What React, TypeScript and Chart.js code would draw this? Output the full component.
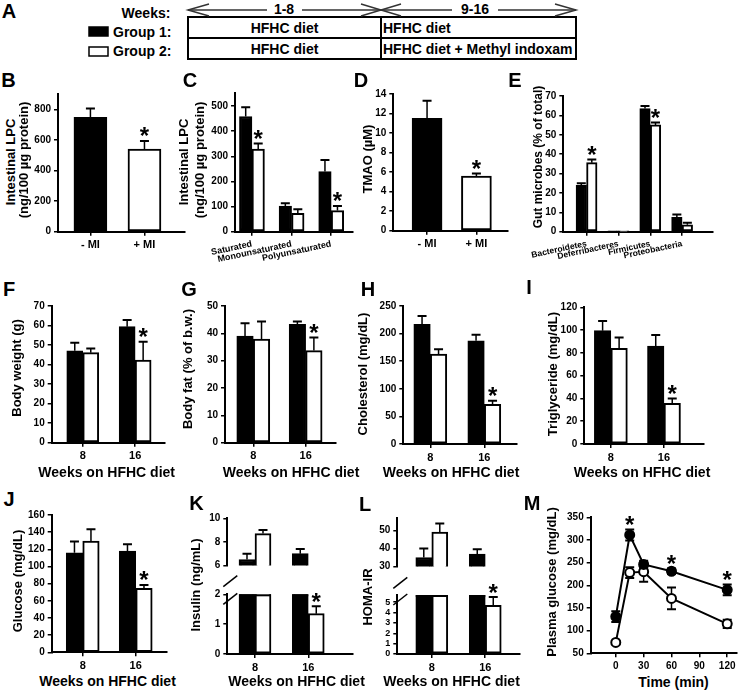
import React, { useEffect, useRef } from 'react';
import { Chart, registerables } from 'chart.js';

Chart.register(...registerables);

const FONT = "'Liberation Sans', Arial, Helvetica, sans-serif";
Chart.defaults.font.family = FONT;
Chart.defaults.color = '#000';

// ---------------- data ----------------
const miLabels = ['- MI', '+ MI'];
const lpcTotal = [748, 540];
const lpcTotalErr = [58, 53];
const lpcTotalTicks = [0, 200, 400, 600, 800];

const lpcClasses = ['Saturated', 'Monounsaturated', 'Polyunsaturated'];
const lpcClassG1 = [458, 102, 239];
const lpcClassG1Err = [37, 11, 46];
const lpcClassG2 = [329, 73, 84];
const lpcClassG2Err = [22, 16, 18];
const lpcClassTicks = [0, 100, 200, 300, 400, 500];

const tmao = [11.5, 5.6];
const tmaoErr = [1.8, 0.25];
const tmaoTicks = [0, 2, 4, 6, 8, 10, 12, 14];

const phyla = ['Bacteroidetes', 'Deferribacteres', 'Firmicutes', 'Proteobacteria'];
const microbesG1 = [23.9, 0.3, 63.5, 7.4];
const microbesG1Err = [1.1, 0, 1.4, 1.5];
const microbesG2 = [35.6, 0.2, 55.1, 3.6];
const microbesG2Err = [1.7, 0, 1.2, 1.0];
const microbesTicks = [0, 10, 20, 30, 40, 50, 60, 70];

const weeks = ['8', '16'];
const bodyWeightG1 = [47.1, 59.4];
const bodyWeightG1Err = [4.1, 3.4];
const bodyWeightG2 = [46.1, 42.3];
const bodyWeightG2Err = [2.2, 9.4];
const bodyWeightTicks = [0, 10, 20, 30, 40, 50, 60, 70];

const bodyFatG1 = [39.0, 43.3];
const bodyFatG1Err = [4.7, 1.0];
const bodyFatG2 = [37.9, 33.7];
const bodyFatG2Err = [6.4, 4.8];
const bodyFatTicks = [0, 10, 20, 30, 40, 50];

const cholG1 = [217, 187];
const cholG1Err = [15, 11];
const cholG2 = [163, 72];
const cholG2Err = [8.5, 6.5];
const cholTicks = [0, 50, 100, 150, 200, 250];

const tgG1 = [99.5, 86];
const tgG1Err = [8.5, 9.7];
const tgG2 = [84, 35.7];
const tgG2Err = [9.4, 4.3];
const tgTicks = [0, 20, 40, 60, 80, 100, 120];

const glucoseG1 = [116, 118];
const glucoseG1Err = [13, 8];
const glucoseG2 = [129.7, 74.6];
const glucoseG2Err = [13.6, 3.8];
const glucoseTicks = [0, 20, 40, 60, 80, 100, 120, 140, 160];

const insulinG1 = [6.5, 7.0];
const insulinG1Err = [0.5, 0.4];
const insulinG2 = [8.7, 1.35];
const insulinG2Err = [0.3, 0.25];
const insulinLowTicks = [0, 1, 2];
const insulinHighTicks = [6, 8, 10];

const homaG1 = [35, 36.9];
const homaG1Err = [5, 2.6];
const homaG2 = [49, 4.7];
const homaG2Err = [4.7, 0.8];
const homaLowTicks = [0, 1, 2, 3, 4, 5];
const homaHighTicks = [30, 40, 50];

const gttTime = [0, 15, 30, 60, 120];
const gttG1 = [131, 311, 246, 231, 190];
const gttG1Err = [12, 12, 8, 6, 12];
const gttG2 = [74, 228, 230, 171, 115];
const gttG2Err = [3, 12, 22, 24, 9];
const gttYTicks = [50, 100, 150, 200, 250, 300, 350];
const gttXTicks = [0, 30, 60, 90, 120];

// significance marks (index of the Group 2 / treated point)
const sigSecond = [1];
const sigLpcClass = [0, 2];
const sigMicrobes = [0, 2];
const sigGtt = [1, 3, 4];

// ---------------- helpers ----------------
const val = (d: any) => (typeof d === 'number' ? d : d.y);
const idx = (n: number) => Array.from({ length: n }, (_, i) => i + 1);
const xy = (vals: number[]) => vals.map((v, i) => ({ x: i + 1, y: v }));

const errorBarPlugin = {
  id: 'errorBars',
  beforeDatasetsDraw(chart: any) {
    const ctx = chart.ctx;
    chart.data.datasets.forEach((ds: any, di: number) => {
      if (!ds.errors) return;
      const meta = chart.getDatasetMeta(di);
      const ys = chart.scales[meta.yAxisID];
      const xs = chart.scales[meta.xAxisID];
      ctx.save();
      ctx.beginPath();
      ctx.rect(xs.left - 20, ys.top, xs.right - xs.left + 40, ys.bottom - ys.top);
      ctx.clip();
      ctx.strokeStyle = '#000';
      meta.data.forEach((el: any, i: number) => {
        const e = ds.errors[i];
        if (!e) return;
        const v = val(ds.data[i]);
        const x = el.x;
        const top = ys.getPixelForValue(v + e);
        const bottom = ds.errorsBothWays ? ys.getPixelForValue(v - e) : el.y;
        ctx.lineWidth = 1.5;
        ctx.beginPath();
        ctx.moveTo(x, bottom);
        ctx.lineTo(x, top);
        ctx.stroke();
        ctx.lineWidth = 2;
        ctx.beginPath();
        ctx.moveTo(x - 4.5, top);
        ctx.lineTo(x + 4.5, top);
        if (ds.errorsBothWays) {
          ctx.moveTo(x - 4.5, bottom);
          ctx.lineTo(x + 4.5, bottom);
        }
        ctx.stroke();
      });
      ctx.restore();
    });
  },
};

const starPlugin = {
  id: 'stars',
  afterDatasetsDraw(chart: any) {
    const ctx = chart.ctx;
    chart.data.datasets.forEach((ds: any, di: number) => {
      if (!ds.stars) return;
      const meta = chart.getDatasetMeta(di);
      const ys = chart.scales[meta.yAxisID];
      ctx.save();
      ctx.font = `bold 24px ${FONT}`;
      ctx.fillStyle = '#000';
      ctx.textAlign = 'center';
      ctx.textBaseline = 'alphabetic';
      ds.stars.forEach((i: number) => {
        const el = meta.data[i];
        const v = val(ds.data[i]);
        const top = ys.getPixelForValue(v + (ds.errors ? ds.errors[i] : 0));
        ctx.fillText('*', el.x, top - 10 + 0.56 * 24);
      });
      ctx.restore();
    });
  },
};

const breakPlugin = {
  id: 'brk',
  afterDatasetsDraw(chart: any, _a: any, opts: any) {
    if (!opts || !opts.active) return;
    const ctx = chart.ctx;
    const y = chart.scales.y;
    ctx.save();
    ctx.fillStyle = '#000';
    chart.data.datasets.forEach((ds: any, di: number) => {
      const meta = chart.getDatasetMeta(di);
      meta.data.forEach((el: any, i: number) => {
        if (val(ds.data[i]) > y.max) ctx.fillRect(el.x - el.width / 2, y.top, el.width, 2);
      });
    });
    const L = y.right;
    const lowTop = y.top;
    const upBottom = lowTop - opts.gap;
    ctx.strokeStyle = '#000';
    ctx.lineWidth = 1.5;
    [upBottom, lowTop].forEach((yy) => {
      ctx.beginPath();
      ctx.moveTo(L - 4, yy + 10);
      ctx.lineTo(L + 10, yy - 1);
      ctx.stroke();
    });
    ctx.restore();
  },
};

type Spec = {
  canvas: [number, number, number, number];
  plot: [number, number, number, number];
  type?: 'bar' | 'line';
  xMin: number;
  xMax: number;
  xTicks: number[];
  xLabels?: string[];
  xFont?: number;
  rot?: number;
  hideX?: boolean;
  yMin: number;
  yMax: number;
  yTicks: number[];
  yFont?: number;
  datasets: any[];
  brk?: { active: boolean; gap: number };
};

function buildConfig(s: Spec) {
  const [cx, cy, cw, ch] = s.canvas;
  const [l, t, r, b] = s.plot;
  const hideX = !!s.hideX;
  const rot = s.rot || 0;
  return {
    type: s.type || 'bar',
    data: { datasets: s.datasets },
    options: {
      responsive: false,
      maintainAspectRatio: false,
      animation: false,
      events: [],
      layout: {
        padding: { left: 0, top: t - cy, right: cx + cw - r, bottom: hideX ? cy + ch - b : 0 },
      },
      plugins: {
        legend: { display: false },
        tooltip: { enabled: false },
        brk: s.brk || { active: false, gap: 0 },
      },
      scales: {
        x: {
          type: 'linear',
          display: !hideX,
          offset: false,
          min: s.xMin,
          max: s.xMax,
          afterFit: (sc: any) => {
            sc.height = cy + ch - b;
          },
          afterBuildTicks: (sc: any) => {
            sc.ticks = s.xTicks.map((v) => ({ value: v }));
          },
          grid: { display: true, offset: false, drawOnChartArea: false, drawTicks: true, tickLength: 4, color: '#000', lineWidth: 1.5 },
          border: { display: true, color: '#000', width: 2 },
          ticks: {
            font: { size: s.xFont || 11, weight: 'bold', family: FONT },
            color: '#000',
            padding: 3,
            autoSkip: false,
            minRotation: rot,
            maxRotation: rot,
            callback: (v: number) => (s.xLabels ? s.xLabels[Math.round(v) - 1] : String(v)),
          },
        },
        y: {
          type: 'linear',
          min: s.yMin,
          max: s.yMax,
          afterFit: (sc: any) => {
            sc.width = l - cx;
          },
          afterBuildTicks: (sc: any) => {
            sc.ticks = s.yTicks.map((v) => ({ value: v }));
          },
          grid: { display: true, drawOnChartArea: false, drawTicks: true, tickLength: 4, color: '#000', lineWidth: 1.5 },
          border: { display: true, color: '#000', width: 2 },
          ticks: {
            font: { size: s.yFont || 10, weight: 'bold', family: FONT },
            color: '#000',
            padding: 3,
            autoSkip: false,
          },
        },
      },
    },
    plugins: [errorBarPlugin, starPlugin, breakPlugin],
  };
}

function barDs(values: number[], errors: number[], fill: string | string[], thickness: number, stars?: number[]) {
  return {
    data: xy(values),
    backgroundColor: fill,
    borderColor: '#000',
    borderWidth: 2,
    borderSkipped: false,
    barThickness: thickness,
    clip: 0,
    errors,
    stars,
  };
}

function pair(g1: number[], e1: number[], g2: number[], e2: number[], th: number, stars?: number[]) {
  return [barDs(g1, e1, '#000', th), barDs(g2, e2, '#fff', th, stars)];
}

function lineDs(times: number[], values: number[], errors: number[], fill: string, stars?: number[]) {
  return {
    data: times.map((t, i) => ({ x: t, y: values[i] })),
    borderColor: '#000',
    borderWidth: 2,
    backgroundColor: fill,
    pointBackgroundColor: fill,
    pointBorderColor: '#000',
    pointBorderWidth: 2,
    pointRadius: 4.5,
    tension: 0,
    showLine: true,
    errors,
    errorsBothWays: true,
    stars,
  };
}

// ---------------- panels ----------------
const specs: Spec[] = [
  // B
  {
    canvas: [26, 84, 164, 176], plot: [58, 94, 185, 231.7],
    xMin: 0.4, xMax: 2.75, xTicks: idx(2), xLabels: miLabels,
    yMin: 0, yMax: 900, yTicks: lpcTotalTicks,
    datasets: [barDs(lpcTotal, lpcTotalErr, ['#000', '#fff'], 33, sigSecond)],
  },
  // C
  {
    canvas: [204, 84, 154, 182], plot: [234.3, 93.4, 353, 231.7],
    xMin: 0.573, xMax: 3.55, xTicks: idx(3), xLabels: lpcClasses, xFont: 9, rot: 12,
    yMin: 0, yMax: 550, yTicks: lpcClassTicks,
    datasets: pair(lpcClassG1, lpcClassG1Err, lpcClassG2, lpcClassG2Err, 12.5, sigLpcClass),
  },
  // D
  {
    canvas: [365, 84, 148, 176], plot: [393.3, 94, 508, 230.7],
    xMin: 0.316, xMax: 2.64, xTicks: idx(2), xLabels: miLabels,
    yMin: 0, yMax: 14, yTicks: tmaoTicks,
    datasets: [barDs(tmao, tmaoErr, ['#000', '#fff'], 30, sigSecond)],
  },
  // E
  {
    canvas: [522, 84, 196, 182], plot: [563.3, 96, 713, 231.7],
    xMin: 0.27, xMax: 4.97, xTicks: idx(4), xLabels: phyla, xFont: 8.5, rot: 12,
    yMin: 0, yMax: 70, yTicks: microbesTicks,
    datasets: pair(microbesG1, microbesG1Err, microbesG2, microbesG2Err, 10.5, sigMicrobes),
  },
  // F
  {
    canvas: [20, 296, 150, 166], plot: [51.7, 306, 165, 442.7],
    xMin: 0.407, xMax: 2.57, xTicks: idx(2), xLabels: weeks,
    yMin: 0, yMax: 70, yTicks: bodyWeightTicks,
    datasets: pair(bodyWeightG1, bodyWeightG1Err, bodyWeightG2, bodyWeightG2Err, 16, sigSecond),
  },
  // G
  {
    canvas: [196, 296, 145, 166], plot: [225, 306, 336, 442.7],
    xMin: 0.46, xMax: 2.58, xTicks: idx(2), xLabels: weeks,
    yMin: 0, yMax: 50, yTicks: bodyFatTicks,
    datasets: pair(bodyFatG1, bodyFatG1Err, bodyFatG2, bodyFatG2Err, 16.5, sigSecond),
  },
  // H
  {
    canvas: [372, 296, 150, 166], plot: [403.3, 306, 516.7, 444],
    xMin: 0.5, xMax: 2.6, xTicks: idx(2), xLabels: weeks,
    yMin: 0, yMax: 250, yTicks: cholTicks,
    datasets: pair(cholG1, cholG1Err, cholG2, cholG2Err, 16.5, sigSecond),
  },
  // I
  {
    canvas: [553, 296, 155, 166], plot: [584.3, 307.3, 703.3, 444],
    xMin: 0.5, xMax: 2.74, xTicks: idx(2), xLabels: weeks,
    yMin: 0, yMax: 120, yTicks: tgTicks,
    datasets: pair(tgG1, tgG1Err, tgG2, tgG2Err, 16.5, sigSecond),
  },
  // J
  {
    canvas: [18, 505, 154, 168], plot: [51.7, 515, 167, 652.3],
    xMin: 0.415, xMax: 2.59, xTicks: idx(2), xLabels: weeks,
    yMin: 0, yMax: 160, yTicks: glucoseTicks,
    datasets: pair(glucoseG1, glucoseG1Err, glucoseG2, glucoseG2Err, 16.5, sigSecond),
  },
  // K upper
  {
    canvas: [198, 508, 160, 80], plot: [227.3, 518.3, 353, 576.7], hideX: true,
    xMin: 0.48, xMax: 2.84, xTicks: idx(2), xLabels: weeks,
    yMin: 6, yMax: 10, yTicks: insulinHighTicks,
    datasets: pair(insulinG1, insulinG1Err, insulinG2, insulinG2Err, 16),
  },
  // K lower
  {
    canvas: [198, 568, 160, 105], plot: [227.3, 594.3, 353, 654],
    xMin: 0.48, xMax: 2.84, xTicks: idx(2), xLabels: weeks,
    yMin: 0, yMax: 2, yTicks: insulinLowTicks,
    datasets: pair(insulinG1, insulinG1Err, insulinG2, insulinG2Err, 16, sigSecond),
    brk: { active: true, gap: 17.6 },
  },
  // L upper
  {
    canvas: [368, 508, 157, 82], plot: [397.3, 518.3, 520, 578.3], hideX: true,
    xMin: 0.355, xMax: 2.65, xTicks: idx(2), xLabels: weeks,
    yMin: 30, yMax: 56.6, yTicks: homaHighTicks,
    datasets: pair(homaG1, homaG1Err, homaG2, homaG2Err, 16),
  },
  // L lower
  {
    canvas: [368, 568, 157, 105], plot: [397.3, 595, 520, 654],
    xMin: 0.355, xMax: 2.65, xTicks: idx(2), xLabels: weeks,
    yMin: 0, yMax: 5.7, yTicks: homaLowTicks, yFont: 9,
    datasets: pair(homaG1, homaG1Err, homaG2, homaG2Err, 16, sigSecond),
    brk: { active: true, gap: 16.7 },
  },
  // M
  {
    canvas: [558, 507, 185, 166], plot: [590.7, 517.3, 741.7, 653.3], type: 'line',
    xMin: -27, xMax: 130, xTicks: gttXTicks, xFont: 10,
    yMin: 50, yMax: 350, yTicks: gttYTicks,
    datasets: [lineDs(gttTime, gttG1, gttG1Err, '#000', sigGtt), lineDs(gttTime, gttG2, gttG2Err, '#fff')],
  },
];

function ChartPanel({ spec }: { spec: Spec }) {
  const ref = useRef<HTMLCanvasElement>(null);
  useEffect(() => {
    const chart = new Chart(ref.current as HTMLCanvasElement, buildConfig(spec) as any);
    return () => chart.destroy();
  }, [spec]);
  const [x, y, w, h] = spec.canvas;
  return (
    <canvas
      ref={ref}
      width={w}
      height={h}
      style={{ position: 'absolute', left: x, top: y, width: w, height: h }}
    />
  );
}

function Txt({ x, y, size = 13, rot = 0, left = false, children }: any) {
  return (
    <div
      style={{
        position: 'absolute',
        left: x,
        top: y,
        transform: left ? 'translate(0,-50%)' : `translate(-50%,-50%) rotate(${rot}deg)`,
        font: `bold ${size}px ${FONT}`,
        lineHeight: 1,
        whiteSpace: 'nowrap',
        color: '#000',
      }}
    >
      {children}
    </div>
  );
}

const letters: [string, number, number][] = [
  ['A', 9, 10.5], ['B', 8.5, 80], ['C', 190, 80], ['D', 361, 80], ['E', 515, 80],
  ['F', 9, 289], ['G', 189, 289], ['H', 368, 289], ['I', 529, 287],
  ['J', 9, 499], ['K', 196.5, 503], ['L', 365, 504], ['M', 532, 503],
];

const yTitles: [string, number, number, number][] = [
  ['Intestinal LPC', 10, 162, 13],
  ['(ng/100 µg protein)', 23, 160, 13],
  ['Intestinal LPC', 183, 162, 13],
  ['(ng/100 µg protein)', 199, 160, 13],
  ['TMAO (µM)', 367, 159, 13],
  ['Gut microbes (% of total)', 538, 157, 12],
  ['Body weight (g)', 16, 368, 13],
  ['Body fat (% of b.w.)', 187, 369, 13],
  ['Cholesterol (mg/dL)', 362, 374, 13],
  ['Triglyceride (mg/dL)', 552, 374, 13],
  ['Glucose (mg/dL)', 16.7, 581, 13],
  ['Insulin (ng/mL)', 195, 585, 13],
  ['HOMA-IR', 367, 597, 13],
  ['Plasma glucose (mg/dL)', 551, 582, 13],
];

const xTitles: [string, number, number][] = [
  ['Weeks on HFHC diet', 106.7, 471.7],
  ['Weeks on HFHC diet', 291, 471.7],
  ['Weeks on HFHC diet', 451, 471.7],
  ['Weeks on HFHC diet', 642, 471.7],
  ['Weeks on HFHC diet', 107.5, 681],
  ['Weeks on HFHC diet', 296.5, 681],
  ['Weeks on HFHC diet', 451.5, 681],
  ['Time (min)', 673.5, 681.7],
];

function Schematic() {
  const stroke = '#333';
  return (
    <>
      <svg width={743} height={70} style={{ position: 'absolute', left: 0, top: 0 }}>
        <rect x={89} y={27} width={19} height={9} fill="#000" stroke="#000" strokeWidth={1.5} />
        <rect x={89} y={47} width={19} height={9} fill="#fff" stroke="#000" strokeWidth={1.5} />
        <rect x={188} y={17} width={388} height={42} fill="none" stroke="#000" strokeWidth={2} />
        <line x1={381} y1={17} x2={381} y2={59} stroke="#000" strokeWidth={2} />
        <line x1={188} y1={38} x2={576} y2={38} stroke="#000" strokeWidth={2} />
        <g stroke={stroke} strokeWidth={1.5} fill="none">
          <line x1={188} y1={10} x2={267} y2={10} />
          <line x1={302} y1={10} x2={381} y2={10} />
          <line x1={381} y1={10} x2={452} y2={10} />
          <line x1={498} y1={10} x2={576} y2={10} />
          <polyline points="209,4 188,10 209,16" />
          <polyline points="361,4 381,10 361,16" />
          <polyline points="401,4 381,10 401,16" />
          <polyline points="555,4 576,10 555,16" />
        </g>
      </svg>
      <Txt x={146} y={12.5} size={14}>Weeks:</Txt>
      <Txt x={284} y={9} size={14}>1-8</Txt>
      <Txt x={475} y={9} size={14}>9-16</Txt>
      <Txt x={113} y={31.7} size={14} left>Group 1:</Txt>
      <Txt x={113} y={51} size={14} left>Group 2:</Txt>
      <Txt x={284.5} y={28} size={14}>HFHC diet</Txt>
      <Txt x={284.5} y={49} size={14}>HFHC diet</Txt>
      <Txt x={383} y={28} size={14} left>HFHC diet</Txt>
      <Txt x={383} y={49} size={14} left>HFHC diet + Methyl indoxam</Txt>
    </>
  );
}

export default function App() {
  return (
    <div
      style={{
        position: 'absolute',
        left: 0,
        top: 0,
        width: 743,
        height: 691,
        overflow: 'hidden',
        background: '#fff',
        fontFamily: FONT,
      }}
    >
      <Schematic />
      {specs.map((s, i) => (
        <ChartPanel key={i} spec={s} />
      ))}
      {letters.map(([t, x, y], i) => (
        <Txt key={'l' + i} x={x} y={y} size={20}>{t}</Txt>
      ))}
      {yTitles.map(([t, x, y, s], i) => (
        <Txt key={'y' + i} x={x} y={y} size={s} rot={-90}>{t}</Txt>
      ))}
      {xTitles.map(([t, x, y], i) => (
        <Txt key={'x' + i} x={x} y={y} size={14}>{t}</Txt>
      ))}
    </div>
  );
}
